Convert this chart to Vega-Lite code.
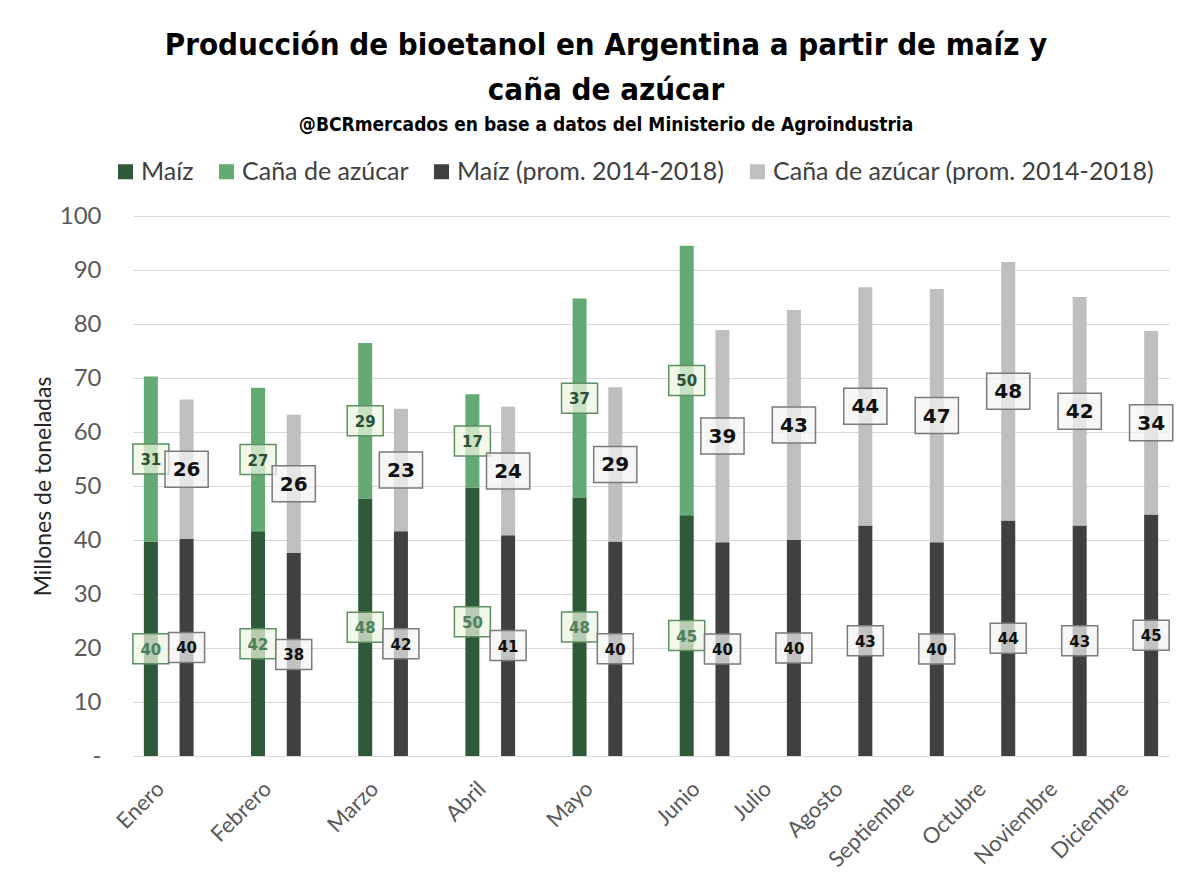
{
  "$schema": "https://vega.github.io/schema/vega-lite/v6.json",
  "width": 1036,
  "height": 540,
  "padding": {"left": 32, "top": 30, "right": 20, "bottom": 5},
  "background": "white",
  "title": {
    "text": ["Producción de bioetanol en Argentina a partir de maíz y", "caña de azúcar"],
    "subtitle": "@BCRmercados en base a datos del Ministerio de Agroindustria",
    "anchor": "middle",
    "dx": -45,
    "font": "DejaVu Sans Condensed, Liberation Sans Narrow, Roboto, sans-serif",
    "fontSize": 31,
    "fontWeight": "bold",
    "lineHeight": 45,
    "color": "#000000",
    "subtitleFont": "DejaVu Sans Condensed, Liberation Sans Narrow, Roboto, sans-serif",
    "subtitleFontSize": 19,
    "subtitleFontWeight": "bold",
    "subtitleColor": "#000000",
    "subtitlePadding": 9,
    "offset": 23
  },
  "data": {
    "values": [
      {"mes": "Enero", "periodo": "2019", "cultivo": "Maíz", "serie": "Maíz", "barra": "Enero 2019", "valor": 39.7},
      {"mes": "Enero", "periodo": "2019", "cultivo": "Caña", "serie": "Caña de azúcar", "barra": "Enero 2019", "valor": 30.6},
      {"mes": "Enero", "periodo": "prom", "cultivo": "Maíz", "serie": "Maíz (prom. 2014-2018)", "barra": "Enero prom", "valor": 40.2},
      {"mes": "Enero", "periodo": "prom", "cultivo": "Caña", "serie": "Caña de azúcar (prom. 2014-2018)", "barra": "Enero prom", "valor": 25.8},
      {"mes": "Febrero", "periodo": "2019", "cultivo": "Maíz", "serie": "Maíz", "barra": "Febrero 2019", "valor": 41.6},
      {"mes": "Febrero", "periodo": "2019", "cultivo": "Caña", "serie": "Caña de azúcar", "barra": "Febrero 2019", "valor": 26.6},
      {"mes": "Febrero", "periodo": "prom", "cultivo": "Maíz", "serie": "Maíz (prom. 2014-2018)", "barra": "Febrero prom", "valor": 37.6},
      {"mes": "Febrero", "periodo": "prom", "cultivo": "Caña", "serie": "Caña de azúcar (prom. 2014-2018)", "barra": "Febrero prom", "valor": 25.6},
      {"mes": "Marzo", "periodo": "2019", "cultivo": "Maíz", "serie": "Maíz", "barra": "Marzo 2019", "valor": 47.7},
      {"mes": "Marzo", "periodo": "2019", "cultivo": "Caña", "serie": "Caña de azúcar", "barra": "Marzo 2019", "valor": 28.8},
      {"mes": "Marzo", "periodo": "prom", "cultivo": "Maíz", "serie": "Maíz (prom. 2014-2018)", "barra": "Marzo prom", "valor": 41.6},
      {"mes": "Marzo", "periodo": "prom", "cultivo": "Caña", "serie": "Caña de azúcar (prom. 2014-2018)", "barra": "Marzo prom", "valor": 22.7},
      {"mes": "Abril", "periodo": "2019", "cultivo": "Maíz", "serie": "Maíz", "barra": "Abril 2019", "valor": 49.7},
      {"mes": "Abril", "periodo": "2019", "cultivo": "Caña", "serie": "Caña de azúcar", "barra": "Abril 2019", "valor": 17.3},
      {"mes": "Abril", "periodo": "prom", "cultivo": "Maíz", "serie": "Maíz (prom. 2014-2018)", "barra": "Abril prom", "valor": 40.9},
      {"mes": "Abril", "periodo": "prom", "cultivo": "Caña", "serie": "Caña de azúcar (prom. 2014-2018)", "barra": "Abril prom", "valor": 23.8},
      {"mes": "Mayo", "periodo": "2019", "cultivo": "Maíz", "serie": "Maíz", "barra": "Mayo 2019", "valor": 47.8},
      {"mes": "Mayo", "periodo": "2019", "cultivo": "Caña", "serie": "Caña de azúcar", "barra": "Mayo 2019", "valor": 36.9},
      {"mes": "Mayo", "periodo": "prom", "cultivo": "Maíz", "serie": "Maíz (prom. 2014-2018)", "barra": "Mayo prom", "valor": 39.7},
      {"mes": "Mayo", "periodo": "prom", "cultivo": "Caña", "serie": "Caña de azúcar (prom. 2014-2018)", "barra": "Mayo prom", "valor": 28.6},
      {"mes": "Junio", "periodo": "2019", "cultivo": "Maíz", "serie": "Maíz", "barra": "Junio 2019", "valor": 44.6},
      {"mes": "Junio", "periodo": "2019", "cultivo": "Caña", "serie": "Caña de azúcar", "barra": "Junio 2019", "valor": 49.9},
      {"mes": "Junio", "periodo": "prom", "cultivo": "Maíz", "serie": "Maíz (prom. 2014-2018)", "barra": "Junio prom", "valor": 39.6},
      {"mes": "Junio", "periodo": "prom", "cultivo": "Caña", "serie": "Caña de azúcar (prom. 2014-2018)", "barra": "Junio prom", "valor": 39.3},
      {"mes": "Julio", "periodo": "prom", "cultivo": "Maíz", "serie": "Maíz (prom. 2014-2018)", "barra": "Julio prom", "valor": 40.0},
      {"mes": "Julio", "periodo": "prom", "cultivo": "Caña", "serie": "Caña de azúcar (prom. 2014-2018)", "barra": "Julio prom", "valor": 42.6},
      {"mes": "Agosto", "periodo": "prom", "cultivo": "Maíz", "serie": "Maíz (prom. 2014-2018)", "barra": "Agosto prom", "valor": 42.7},
      {"mes": "Agosto", "periodo": "prom", "cultivo": "Caña", "serie": "Caña de azúcar (prom. 2014-2018)", "barra": "Agosto prom", "valor": 44.1},
      {"mes": "Septiembre", "periodo": "prom", "cultivo": "Maíz", "serie": "Maíz (prom. 2014-2018)", "barra": "Septiembre prom", "valor": 39.6},
      {"mes": "Septiembre", "periodo": "prom", "cultivo": "Caña", "serie": "Caña de azúcar (prom. 2014-2018)", "barra": "Septiembre prom", "valor": 46.9},
      {"mes": "Octubre", "periodo": "prom", "cultivo": "Maíz", "serie": "Maíz (prom. 2014-2018)", "barra": "Octubre prom", "valor": 43.6},
      {"mes": "Octubre", "periodo": "prom", "cultivo": "Caña", "serie": "Caña de azúcar (prom. 2014-2018)", "barra": "Octubre prom", "valor": 47.9},
      {"mes": "Noviembre", "periodo": "prom", "cultivo": "Maíz", "serie": "Maíz (prom. 2014-2018)", "barra": "Noviembre prom", "valor": 42.7},
      {"mes": "Noviembre", "periodo": "prom", "cultivo": "Caña", "serie": "Caña de azúcar (prom. 2014-2018)", "barra": "Noviembre prom", "valor": 42.3},
      {"mes": "Diciembre", "periodo": "prom", "cultivo": "Maíz", "serie": "Maíz (prom. 2014-2018)", "barra": "Diciembre prom", "valor": 44.7},
      {"mes": "Diciembre", "periodo": "prom", "cultivo": "Caña", "serie": "Caña de azúcar (prom. 2014-2018)", "barra": "Diciembre prom", "valor": 34.0}
    ]
  },
  "transform": [
    {"stack": "valor", "groupby": ["barra"], "sort": [{"field": "cultivo", "order": "descending"}], "as": ["v0", "v1"]},
    {"calculate": "(datum.v0 + datum.v1) / 2", "as": "mid"}
  ],
  "encoding": {
    "x": {
      "field": "barra",
      "type": "nominal",
      "title": null,
      "scale": {
        "domain": ["Enero 2019", "Enero prom", "Enero _", "Febrero 2019", "Febrero prom", "Febrero _", "Marzo 2019", "Marzo prom", "Marzo _", "Abril 2019", "Abril prom", "Abril _", "Mayo 2019", "Mayo prom", "Mayo _", "Junio 2019", "Junio prom", "Junio _", "Julio prom", "Julio _", "Agosto prom", "Agosto _", "Septiembre prom", "Septiembre _", "Octubre prom", "Octubre _", "Noviembre prom", "Noviembre _", "Diciembre prom"],
        "paddingInner": 0,
        "paddingOuter": 0
      },
      "axis": {
        "labelExpr": "indexof(datum.value, ' prom') > 0 ? replace(datum.value, ' prom', '') : ''",
        "labelAngle": -45,
        "labelAlign": "right",
        "labelBaseline": "middle",
        "labelOffset": -26,
        "labelPadding": 29,
        "labelOverlap": false,
        "labelBound": false,
        "labelFont": "Lato",
        "labelFontSize": 22,
        "labelColor": "#595959",
        "ticks": false,
        "domain": false,
        "grid": false
      }
    }
  },
  "layer": [
    {
      "mark": {"type": "bar", "width": 14},
      "encoding": {
        "y": {
          "field": "v0",
          "type": "quantitative",
          "title": "Millones de toneladas",
          "scale": {"domain": [0, 100], "nice": false},
          "axis": {
            "values": [0, 10, 20, 30, 40, 50, 60, 70, 80, 90, 100],
            "labelExpr": "datum.value == 0 ? '-' : datum.label",
            "labelFont": "Lato",
            "labelFontSize": 24,
            "labelColor": "#595959",
            "labelPadding": 32,
            "ticks": false,
            "domain": false,
            "gridColor": "#d9d9d9",
            "gridWidth": 1,
            "titleFont": "Lato",
            "titleFontSize": 23,
            "titleFontWeight": "normal",
            "titleColor": "#262626",
            "titlePadding": 4
          }
        },
        "y2": {"field": "v1"},
        "color": {
          "field": "serie",
          "type": "nominal",
          "scale": {
            "domain": ["Maíz", "Caña de azúcar", "Maíz (prom. 2014-2018)", "Caña de azúcar (prom. 2014-2018)"],
            "range": ["#2e5a3a", "#64aa74", "#404040", "#bfbfbf"]
          },
          "legend": {
            "title": null,
            "orient": "none",
            "legendX": -20,
            "legendY": -57,
            "direction": "horizontal",
            "symbolType": "square",
            "symbolSize": 225,
            "symbolStrokeWidth": 0,
            "labelFont": "Lato",
            "labelFontSize": 25,
            "labelColor": "#404040",
            "labelOffset": 3,
            "columnPadding": 20,
            "labelLimit": 500
          }
        }
      }
    },
    {
      "mark": {"type": "point", "shape": "M-1.2,-1H1.2V1H-1.2Z", "filled": true, "opacity": 1, "fillOpacity": 0.72, "strokeWidth": 1.5},
      "encoding": {
        "y": {"field": "mid", "type": "quantitative"},
        "size": {"condition": {"test": "datum.serie == 'Caña de azúcar (prom. 2014-2018)'", "value": 1296}, "value": 900},
        "fill": {"condition": {"test": "datum.periodo == '2019'", "value": "#eef6e2"}, "value": "#f4f4f4"},
        "stroke": {"condition": {"test": "datum.periodo == '2019'", "value": "#5e8f62"}, "value": "#7a7a7a"}
      }
    },
    {
      "mark": {"type": "text", "font": "DejaVu Sans", "fontWeight": "bold", "baseline": "middle", "align": "center", "dy": 1},
      "encoding": {
        "y": {"field": "mid", "type": "quantitative"},
        "text": {"field": "valor", "type": "quantitative", "format": ".0f"},
        "size": {"condition": {"test": "datum.serie == 'Caña de azúcar (prom. 2014-2018)'", "value": 20}, "value": 15},
        "color": {
          "condition": [
            {"test": "datum.serie == 'Maíz'", "value": "#4d7f5a"},
            {"test": "datum.serie == 'Caña de azúcar'", "value": "#2c4f35"}
          ],
          "value": "#111111"
        }
      }
    }
  ],
  "config": {
    "view": {"stroke": null}
  }
}
